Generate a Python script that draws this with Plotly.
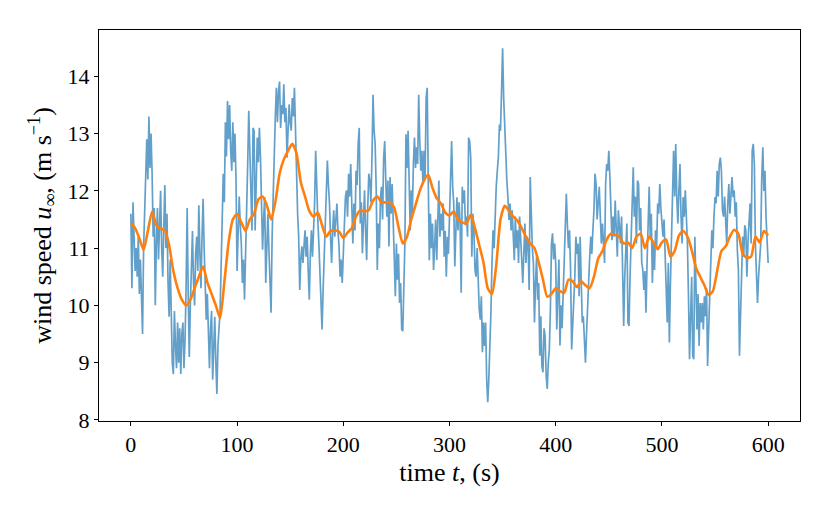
import numpy as np
import plotly.graph_objects as go

# raw wind speed, one value per second
t_raw = np.arange(0, 601, 1)
u_raw = [
    11.6, 10.3, 11.8, 11.3, 10.6, 11.0, 10.5, 11.2, 10.2, 10.8,
    10.0, 9.5, 11.0, 11.8, 12.1, 12.9, 12.2, 13.3, 12.4, 13.0,
    12.3, 11.2, 11.7, 10.0, 11.1, 11.7, 10.8, 11.5, 12.0, 11.0,
    10.5, 11.4, 12.1, 11.0, 11.6, 10.4, 9.8, 10.8, 10.0, 9.0,
    8.8, 9.9, 9.3, 8.9, 9.7, 9.0, 9.6, 8.8, 9.5, 9.7,
    8.9, 9.4, 10.3, 11.7, 10.2, 9.1, 10.0, 10.8, 11.3, 10.4,
    10.0, 10.9, 11.2, 10.6, 11.75, 10.9, 10.3, 11.2, 11.86, 11.0,
    10.4, 9.75, 10.2, 9.3, 8.9, 9.6, 9.9, 8.7, 9.2, 9.8,
    9.0, 8.45, 9.3, 9.6, 9.9, 10.7, 11.3, 12.3, 11.8, 13.2,
    12.6, 13.57, 12.9, 13.5, 12.7, 12.35, 13.2, 12.5, 13.0, 12.2,
    10.6, 11.3, 11.9, 11.4, 11.08, 10.39, 10.8, 10.1, 10.74, 11.6,
    12.47, 13.4, 12.8, 12.12, 11.31, 13.1, 13.05, 11.31, 12.0, 12.93,
    12.5, 13.1, 12.6, 12.0, 10.97, 11.5, 11.89, 10.39, 11.0, 11.6,
    10.97, 10.5, 9.87, 11.2, 12.0, 12.82, 13.3, 13.8, 13.2, 13.74,
    13.91, 13.1, 13.5, 13.34, 13.86, 13.2, 13.45, 12.58, 13.0, 13.51,
    13.2, 13.05, 13.62, 13.3, 13.8, 12.87, 11.89, 11.6, 11.2, 10.27,
    10.8, 11.03, 10.74, 11.1, 11.31, 10.85, 11.2, 10.6, 10.1, 10.9,
    11.31, 10.85, 11.3, 11.78, 12.7, 11.89, 11.5, 11.08, 10.62, 10.0,
    9.58, 10.27, 10.9, 11.55, 12.01, 12.53, 12.1, 11.78, 11.2, 10.74,
    11.3, 11.66, 11.2, 11.5, 11.78, 11.3, 11.03, 10.5, 10.8, 10.39,
    11.0, 11.6, 11.89, 12.01, 11.55, 12.3, 11.9, 12.47, 11.6, 11.08,
    11.78, 11.31, 12.35, 12.1, 12.82, 13.1, 11.43, 11.8, 10.91, 11.6,
    12.01, 11.31, 10.79, 11.7, 12.3, 12.18, 11.8, 12.58, 13.68, 13.05,
    12.82, 12.01, 10.62, 11.43, 11.0, 11.89, 12.07, 11.5, 12.58, 12.87,
    12.2, 11.55, 12.18, 11.03, 12.24, 11.6, 12.12, 11.55, 11.08, 10.16,
    11.08, 10.45, 10.9, 10.04, 10.39, 9.58, 9.55, 10.39, 11.08, 12.99,
    12.4, 13.05, 11.89, 11.31, 12.01, 11.6, 12.47, 12.93, 12.4, 12.76,
    12.47, 13.68, 12.87, 12.35, 12.7, 12.12, 12.7, 12.2, 13.62, 13.8,
    12.18, 10.79, 11.6, 11.0, 11.43, 10.62, 11.03, 11.5, 10.79, 11.55,
    12.18, 11.2, 11.6, 11.31, 11.78, 10.85, 11.3, 10.5, 11.2, 10.9,
    11.7, 12.3, 12.87, 12.07, 11.78, 10.68, 11.55, 11.89, 11.31, 11.8,
    11.43, 10.22, 12.07, 11.78, 12.01, 11.4, 11.55, 11.2, 12.93, 12.87,
    12.58, 10.85, 11.6, 11.31, 10.62, 10.5, 11.0, 10.27, 9.93, 9.75,
    10.16, 9.18, 9.7, 9.29, 9.7, 8.71, 8.31, 8.71, 9.23, 9.87,
    10.74, 11.31, 11.0, 11.6, 12.07, 12.35, 12.58, 13.16, 13.05, 13.74,
    14.49, 13.62, 13.05, 12.58, 12.18, 11.89, 11.49, 11.78, 11.31, 11.66,
    11.2, 10.79, 11.55, 11.0, 11.31, 10.74, 11.55, 11.26, 10.8, 10.39,
    11.08, 11.43, 10.74, 11.2, 11.08, 10.27, 12.24, 11.31, 11.0, 10.74,
    9.7, 10.39, 10.85, 10.1, 10.39, 9.12, 9.81, 8.94, 8.83, 9.6,
    9.47, 8.77, 8.54, 9.0, 9.23, 9.93, 11.08, 11.26, 10.8, 11.08,
    10.74, 9.58, 10.27, 10.8, 9.3, 10.0, 9.6, 10.3, 10.8, 11.3,
    11.95, 11.4, 11.0, 11.31, 10.62, 9.23, 9.58, 10.04, 10.5, 11.2,
    10.9, 11.08, 10.16, 11.2, 10.3, 9.7, 9.81, 9.47, 9.0, 9.5,
    10.04, 10.62, 10.85, 11.2, 10.9, 11.31, 11.66, 12.3, 12.12, 11.5,
    11.78, 12.07, 11.55, 11.08, 11.43, 10.9, 10.74, 12.12, 12.47, 12.35,
    12.7, 12.24, 11.78, 11.14, 11.55, 11.2, 11.83, 11.31, 10.85, 11.66,
    11.3, 11.08, 11.55, 10.62, 9.64, 10.5, 11.08, 11.43, 9.7, 9.64,
    10.5, 11.2, 11.78, 12.41, 11.55, 11.9, 11.08, 12.18, 12.12, 11.31,
    11.7, 10.74, 10.62, 10.27, 10.6, 9.87, 10.74, 11.55, 12.07, 11.2,
    11.6, 10.39, 11.08, 10.62, 11.31, 11.0, 11.78, 11.6, 12.12, 11.7,
    11.43, 11.2, 11.5, 10.74, 10.16, 9.7, 10.74, 9.35, 10.39, 11.08,
    12.24, 12.7, 11.9, 12.82, 11.89, 11.43, 12.01, 12.47, 11.55, 11.08,
    11.89, 11.55, 12.01, 11.55, 11.08, 10.16, 9.06, 9.81, 10.5, 9.12,
    9.06, 11.2, 10.39, 9.58, 10.2, 9.29, 10.04, 9.7, 10.04, 9.58,
    10.16, 9.81, 10.3, 8.94, 9.58, 10.39, 10.74, 11.31, 11.0, 11.55,
    11.89, 11.78, 12.35, 11.9, 12.47, 12.58, 12.35, 11.66, 11.55, 11.9,
    11.31, 11.08, 11.78, 12.12, 11.6, 11.9, 12.24, 11.89, 12.01, 11.55,
    11.8, 10.97, 10.62, 9.12, 9.87, 10.5, 11.2, 10.85, 11.4, 11.31,
    10.5, 11.1, 11.55, 11.78, 11.08, 12.7, 12.82, 12.47, 11.08, 10.62,
    10.04, 10.5, 10.8, 11.08, 12.24, 12.76, 12.0, 12.35, 11.55, 11.1,
    10.74,
]

# smoothed wind speed, every 4 s
t_smooth = np.arange(0, 601, 4)
u_smooth = [
    11.44, 11.35, 11.17, 10.97, 11.3, 11.64, 11.4, 11.34, 11.31, 11.05,
    10.6, 10.3, 10.1, 10.0, 10.1, 10.3, 10.5, 10.68, 10.4, 10.2,
    10.0, 9.78, 10.4, 11.1, 11.5, 11.6, 11.45, 11.3, 11.5, 11.6,
    11.85, 11.9, 11.75, 11.5, 11.8, 12.3, 12.55, 12.7, 12.82, 12.65,
    12.15, 11.9, 11.65, 11.55, 11.62, 11.4, 11.2, 11.3, 11.31, 11.29,
    11.18, 11.27, 11.35, 11.55, 11.66, 11.64, 11.66, 11.83, 11.9, 11.8,
    11.8, 11.8, 11.7, 11.37, 11.08, 11.2, 11.5, 11.75, 12.0, 12.18,
    12.28, 12.05, 11.87, 11.78, 11.62, 11.57, 11.64, 11.5, 11.45, 11.43,
    11.58, 11.35, 11.05, 10.75, 10.3, 10.2, 10.7, 11.5, 11.74, 11.65,
    11.55, 11.48, 11.35, 11.2, 11.08, 11.0, 10.75, 10.45, 10.15, 10.2,
    10.3, 10.25, 10.22, 10.45, 10.42, 10.32, 10.42, 10.35, 10.3, 10.5,
    10.82, 10.95, 11.15, 11.25, 11.23, 11.2, 11.08, 11.1, 11.0, 11.2,
    11.25, 11.0, 11.2, 11.1, 10.98, 11.1, 11.15, 10.85, 10.95, 11.22,
    11.3, 11.2, 10.97, 10.66, 10.5, 10.35, 10.18, 10.25, 10.6, 10.95,
    11.03, 11.2, 11.32, 11.25, 10.9, 10.83, 10.85, 11.2, 11.1, 11.3,
    11.22,
]

x_ticks = [0, 100, 200, 300, 400, 500, 600]
y_ticks = [8, 9, 10, 11, 12, 13, 14]

fig = go.Figure()

fig.add_trace(go.Scatter(
    x=t_raw,
    y=u_raw,
    mode='lines',
    line=dict(color='rgba(31,119,180,0.7)', width=1.7),
    showlegend=False,
))

fig.add_trace(go.Scatter(
    x=t_smooth,
    y=u_smooth,
    mode='lines',
    line=dict(color='#ff7f0e', width=2.6, shape='spline', smoothing=0.6),
    showlegend=False,
))

axis_style = dict(
    showline=True,
    linecolor='black',
    linewidth=1,
    mirror=True,
    ticks='outside',
    ticklen=4,
    tickwidth=1,
    tickcolor='black',
    showgrid=False,
    zeroline=False,
    tickfont=dict(size=22),
)

# page body has an 8 px margin, so the figure is a bit smaller than the window
fig.update_layout(
    width=822,
    height=511,
    margin=dict(l=91, r=30, t=22, b=98),
    paper_bgcolor='white',
    plot_bgcolor='white',
    font=dict(family='Liberation Serif, DejaVu Serif, serif', size=22, color='black'),
    xaxis=dict(
        range=[-30, 630],
        tickvals=x_ticks,
        title=dict(text='time <i>t</i>, (s)', standoff=6, font=dict(size=26)),
        **axis_style,
    ),
    yaxis=dict(
        range=[7.98, 14.81],
        tickvals=y_ticks,
        title=dict(text='wind speed <i>u</i><sub>∞</sub>, (m s<sup>−1</sup>)', standoff=8,
                   font=dict(size=26)),
        **axis_style,
    ),
)

fig.write_html("out.html")
